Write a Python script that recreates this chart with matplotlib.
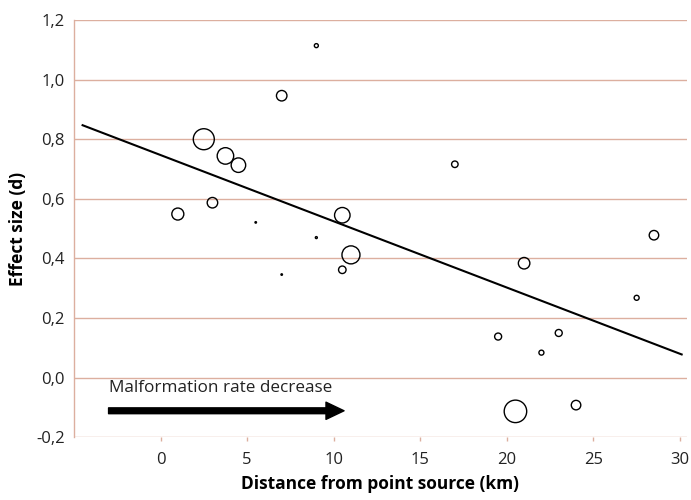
import numpy as np
import matplotlib
matplotlib.use('Agg')
import matplotlib.pyplot as plt
from matplotlib.ticker import FuncFormatter

plt.rcParams['font.family'] = 'Open Sans'

# study points: distance (km), effect size (d), weight (marker diameter, px)
distance = [1.0, 2.5, 3.0, 3.75, 4.5, 5.5, 7.0, 7.0, 9.0, 9.0, 10.5, 10.5, 11.0,
            17.0, 19.5, 20.5, 21.0, 22.0, 23.0, 24.0, 27.5, 28.5]
effect = [0.549, 0.800, 0.587, 0.744, 0.713, 0.521, 0.946, 0.346, 1.114, 0.470,
          0.545, 0.362, 0.412, 0.716, 0.138, -0.113, 0.384, 0.084, 0.150, -0.092,
          0.268, 0.478]
weight = [12, 21, 10.5, 16.5, 14.5, 1.5, 10.5, 1.5, 4, 2, 15.5, 7.5, 18,
          6.5, 7, 22.5, 11.5, 5, 7, 9.5, 5, 9.5]

# regression line end points
fit_x = [-4.5, 30.1]
fit_y = [0.847, 0.078]

x_ticks = [0, 5, 10, 15, 20, 25, 30]
y_ticks = [-0.2, 0.0, 0.2, 0.4, 0.6, 0.8, 1.0, 1.2]

grid_col = '#dcaf9f'

fig = plt.figure(figsize=(6.91, 5.0), dpi=100)
ax = fig.add_axes([0.107, 0.1254, 0.887, 0.8346])

for y in y_ticks:
    ax.axhline(y, color=grid_col, lw=1.0, zorder=0)

# marker size from pixel diameter -> points^2
sizes = [(d * 0.72) ** 2 for d in weight]
ax.scatter(distance, effect, s=sizes, facecolors='none', edgecolors='black',
           linewidths=1.0, zorder=3)
ax.plot(fit_x, fit_y, color='black', lw=1.5, zorder=2)

ax.annotate('', xy=(10.6, -0.111), xytext=(-3.0, -0.111),
            arrowprops=dict(arrowstyle='simple,head_length=0.65,head_width=0.62,tail_width=0.21',
                            mutation_scale=20, color='black', shrinkA=0, shrinkB=0))
ax.text(-2.95, -0.036, 'Malformation rate decrease', fontsize=12.3, va='center', ha='left',
        color='#222222')

ax.set_xlim(-5, 30.4)
ax.set_ylim(-0.2, 1.2)
ax.set_xticks(x_ticks)
ax.set_yticks(y_ticks)
ax.yaxis.set_major_formatter(FuncFormatter(lambda v, p: f'{v:.1f}'.replace('.', ',')))

for s in ['top', 'right', 'bottom']:
    ax.spines[s].set_visible(False)
ax.spines['left'].set_color(grid_col)
ax.spines['left'].set_linewidth(1.0)

ax.tick_params(axis='x', length=3, width=1, color=grid_col, pad=7.5, labelsize=12,
               labelcolor='#222222')
ax.tick_params(axis='y', length=0, pad=6.5, labelsize=12, labelcolor='#222222')

ax.set_xlabel('Distance from point source (km)', fontsize=12.5, fontweight='bold', labelpad=5)
ax.set_ylabel('Effect size (d)', fontsize=12.5, fontweight='bold', labelpad=7)

fig.savefig('out.png', dpi=100)
